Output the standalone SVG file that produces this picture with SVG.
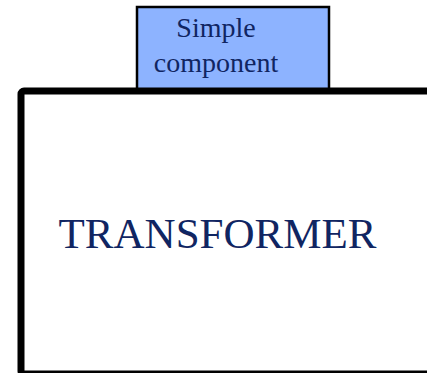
<svg xmlns="http://www.w3.org/2000/svg" width="427" height="373" viewBox="0 0 427 373">
  <style>
    .lbl { font-family: "Liberation Serif", "Times New Roman", serif; fill: #102562; text-anchor: middle; }
  </style>
  <rect width="427" height="373" fill="#ffffff"/>
  <g id="simple-component">
    <rect x="137" y="7" width="192" height="84" fill="#8db3ff" stroke="#000000" stroke-width="2.5"/>
    <text class="lbl" x="216" y="37" font-size="28">Simple</text>
    <text class="lbl" x="216" y="72" font-size="28">component</text>
  </g>
  <g id="transformer">
    <rect x="21" y="91" width="430" height="283" rx="3" fill="none" stroke="#000000" stroke-width="7"/>
    <text class="lbl" x="217.5" y="248" font-size="43">TRANSFORMER</text>
  </g>
  <g id="connectors"/>
</svg>
